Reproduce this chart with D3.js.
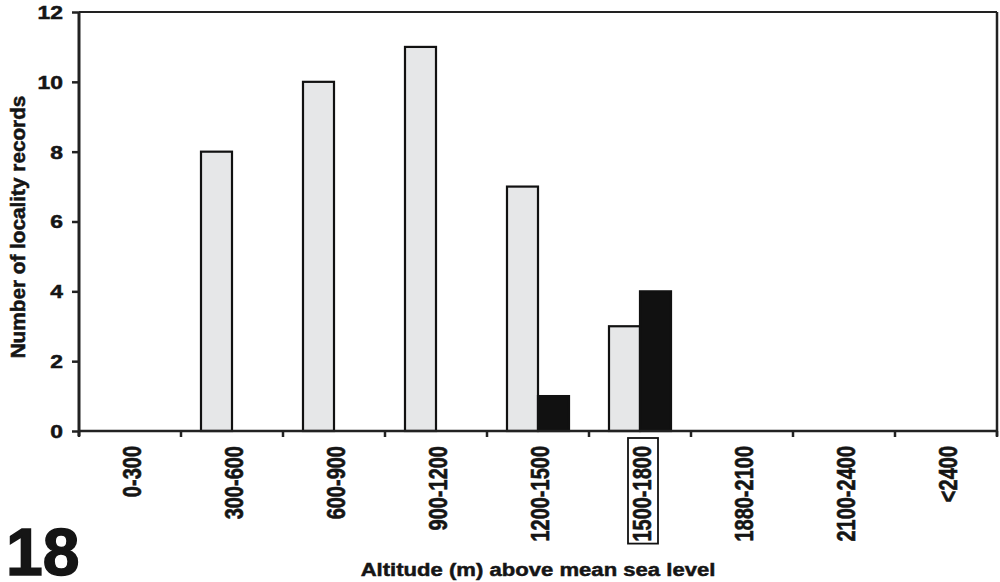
<!DOCTYPE html>
<html><head><meta charset="utf-8">
<script src="https://cdn.jsdelivr.net/npm/d3@7"></script>
<style>body{margin:0;background:#fff}svg{display:block}text{font-family:"Liberation Sans",Arial,sans-serif;font-weight:bold;fill:#151515;stroke:#151515;stroke-width:0.5px}</style>
</head><body><svg id="c" width="1000" height="582"></svg>
<script>
const categories = ["0-300","300-600","600-900","900-1200","1200-1500","1500-1800","1880-2100","2100-2400","<2400"];
const seriesNames = ["grey","black"];
const greyValues = [0,8,10,11,7,3,0,0,0];
const blackValues = [0,0,0,0,1,4,0,0,0];
const yTicks = [0,2,4,6,8,10,12];
const highlighted = "1500-1800";
const yTitle = "Number of locality records";
const xTitle = "Altitude (m) above mean sea level";
const figLabel = "18";

const svg = d3.select("#c");
const L = 79, R = 997, T = 12, B = 431;
const x = d3.scaleBand().domain(categories).range([L, R]).padding(0);
const xs = d3.scaleBand().domain(seriesNames).range([0, x.bandwidth()]).paddingInner(0).paddingOuter(0.645);
const y = d3.scaleLinear().domain([0, 12]).range([B, T]);
const fills = {grey: "#e6e7e8", black: "#111"};

const data = categories.map((c, i) => ({c, vals: [{s: "grey", v: greyValues[i]}, {s: "black", v: blackValues[i]}]}));

// bars
const g = svg.append("g");
data.forEach(d => {
  d.vals.filter(e => e.v > 0).forEach(e => {
    g.append("rect")
      .attr("x", x(d.c) + xs(e.s))
      .attr("y", y(e.v))
      .attr("width", xs.bandwidth())
      .attr("height", y(0) - y(e.v))
      .attr("fill", fills[e.s])
      .attr("stroke", "#111").attr("stroke-width", 2.2);
  });
});

// frame top & right
svg.append("line").attr("x1", L).attr("x2", R).attr("y1", T).attr("y2", T).attr("stroke", "#222").attr("stroke-width", 2.2);
svg.append("line").attr("x1", R).attr("x2", R).attr("y1", T).attr("y2", B + 5).attr("stroke", "#222").attr("stroke-width", 2.5);

// y axis
const ya = svg.append("g").attr("transform", `translate(${L},0)`)
  .call(d3.axisLeft(y).tickValues(yTicks).tickSize(7).tickSizeOuter(0).tickFormat(d3.format("d")));
ya.select(".domain").attr("stroke", "#222").attr("stroke-width", 3).attr("d", `M0,${T}V${B + 5}`);
ya.selectAll(".tick line").attr("stroke", "#222").attr("stroke-width", 2.5);
ya.selectAll(".tick text").remove();
ya.selectAll(".tick").append("text")
  .attr("transform", "translate(-16,0) scale(1.27,1)")
  .attr("text-anchor", "end").attr("dy", "0.36em")
  .style("font-size", "18px").text(d => d3.format("d")(d));

// x axis line
svg.append("line").attr("x1", L).attr("x2", R).attr("y1", B).attr("y2", B).attr("stroke", "#222").attr("stroke-width", 2.5);
// ticks at band edges
const edges = categories.map(c => x(c)).concat([x.range()[1]]);
svg.selectAll(".xt").data(edges).enter().append("line")
  .attr("x1", d => d).attr("x2", d => d).attr("y1", B).attr("y2", B + 6)
  .attr("stroke", "#222").attr("stroke-width", 2.5);

// x labels
const LY = 446;
const lab = svg.selectAll(".xl").data(categories).enter().append("text")
  .attr("transform", d => `translate(${x(d) + x.bandwidth() / 2 + 3},${LY}) rotate(-90) scale(1,1.25)`)
  .attr("text-anchor", "end").attr("dominant-baseline", "central")
  .style("font-size", "20px").text(d => d);
lab.filter(d => d === highlighted).each(function(d) {
  const len = this.getComputedTextLength();
  const cx = x(d) + x.bandwidth() / 2 + 3;
  svg.append("rect").attr("x", cx - 15).attr("y", LY - 8)
    .attr("width", 30).attr("height", len + 10)
    .attr("fill", "none").attr("stroke", "#111").attr("stroke-width", 1.8);
});

// titles
const yt = svg.append("text").attr("text-anchor", "middle")
  .attr("dominant-baseline", "central").style("font-size", "18px").text(yTitle);
const ytl = yt.node().getComputedTextLength();
yt.attr("transform", `translate(18,227) rotate(-90) scale(${263 / ytl},1.1)`);

const xt = svg.append("text").attr("text-anchor", "middle").style("font-size", "19px").text(xTitle);
const xtl = xt.node().getComputedTextLength();
xt.attr("transform", `translate(538,576) scale(${355 / xtl},1)`);

svg.append("text").attr("x", 6).attr("y", 575)
  .style("font-size", "66px").style("stroke-width", "1.5px").text(figLabel);
</script></body></html>
